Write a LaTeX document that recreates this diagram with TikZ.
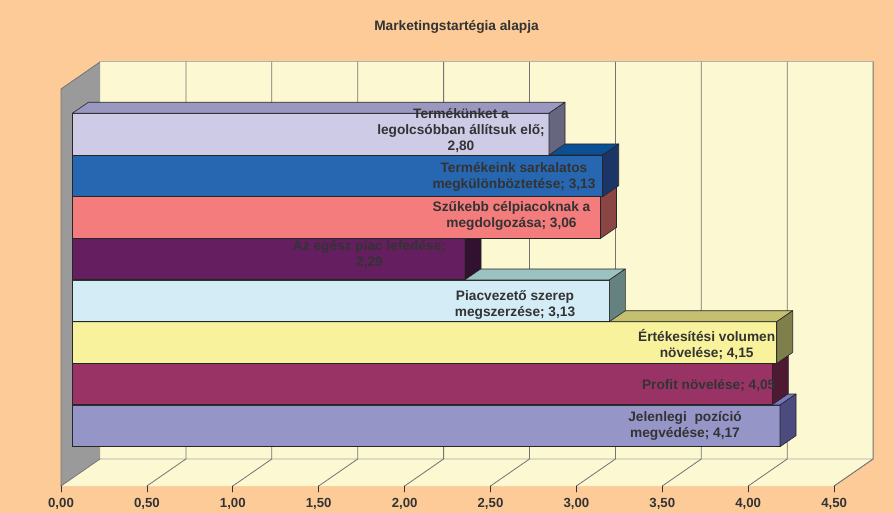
\documentclass[tikz,border=0pt]{standalone}
\usepackage{fontspec}
\setmainfont{Liberation Sans}
\definecolor{peach}{HTML}{FCCB98}
\definecolor{wall}{HTML}{FBF8D2}
\definecolor{sidewall}{HTML}{9A9A9A}
\definecolor{txt}{HTML}{333333}
\definecolor{fA}{HTML}{CDCBE6}\definecolor{tA}{HTML}{9A98C0}\definecolor{sA}{HTML}{67667F}
\definecolor{fB}{HTML}{2766B0}\definecolor{tB}{HTML}{0B4F95}\definecolor{sB}{HTML}{1A3566}
\definecolor{fC}{HTML}{F47C7C}\definecolor{tC}{HTML}{C25F5F}\definecolor{sC}{HTML}{8B4545}
\definecolor{fD}{HTML}{651E5F}\definecolor{tD}{HTML}{4A1646}\definecolor{sD}{HTML}{32102F}
\definecolor{fE}{HTML}{D3ECF5}\definecolor{tE}{HTML}{99C2C1}\definecolor{sE}{HTML}{668280}
\definecolor{fF}{HTML}{F7F29B}\definecolor{tF}{HTML}{C4C070}\definecolor{sF}{HTML}{7F7F4C}
\definecolor{fG}{HTML}{993366}\definecolor{tG}{HTML}{73264D}\definecolor{sG}{HTML}{4D1933}
\definecolor{fH}{HTML}{9595C8}\definecolor{tH}{HTML}{7777C0}\definecolor{sH}{HTML}{4B4B80}
\tikzset{
  barlabel/.style={text=txt, align=center, inner sep=0pt, font=\bfseries\fontsize{13.7}{16}\selectfont},
  barface/.style={draw=black!85, line width=.6pt, line join=round},
  grid/.style={draw=black!55, line width=.8pt}
}
\begin{document}
\begin{tikzpicture}[x=1pt, y=-1pt, line join=round, line cap=round]
\def \xo{61} \def \yo{486} % front corner of the floor
\def \dx{39} \def \dy{27}  % depth of walls
\def \u{85.9}              % 0,50 on the axis
\def \bx{72.3} \def \bh{41.7} \def \bdx{16} \def \bdy{11}
\useasboundingbox (0,0) rectangle (894,513);
\fill[peach] (0,0) rectangle (894,513);
\node[barlabel, font=\bfseries\fontsize{13.7}{16}\selectfont] (title) at (456.5,26.7) {Marketingstartégia alapja};
% walls and floor
\fill[wall] (\xo+\dx,\yo-\dy) rectangle (\xo+\dx+9*\u,62);
\draw[black!30, line width=1pt] (\xo+\dx,62) -- (\xo+\dx+9*\u,62);
\fill[sidewall] (\xo,\yo) -- (\xo,89) -- (\xo+\dx,62) -- (\xo+\dx,\yo-\dy) -- cycle;
\draw[black!55, line width=.8pt] (\xo,\yo) -- (\xo,89) -- (\xo+\dx,62);
\fill[wall] (\xo,\yo) -- (\xo+\dx,\yo-\dy) -- (\xo+\dx+9*\u,\yo-\dy) -- (\xo+9*\u,\yo) -- cycle;
\draw[black!35, line width=.8pt] (\xo+\dx,\yo-\dy) -- (\xo+\dx+9*\u,\yo-\dy) -- (\xo+9*\u,\yo);
\foreach \k in {1,...,9}
  \draw[grid] (\xo+\dx+\k*\u,62) -- (\xo+\dx+\k*\u,\yo-\dy) -- (\xo+\k*\u,\yo);
\draw[grid] (\xo,\yo) -- (\xo+\dx,\yo-\dy);
% bars, from the lowest one up
\foreach \t/\r/\c in {405/780/H, 363/772.3/G, 321.7/776.7/F, 280/609.3/E, 238/465/D, 196.7/600.5/C, 155/602.7/B, 113.3/549/A} {
  \filldraw[barface, fill=f\c] (\bx,\t) rectangle (\r,\t+\bh);
  \filldraw[barface, fill=t\c] (\bx,\t) -- (\bx+\bdx,\t-\bdy) -- (\r+\bdx,\t-\bdy) -- (\r,\t) -- cycle;
  \filldraw[barface, fill=s\c] (\r,\t) -- (\r+\bdx,\t-\bdy) -- (\r+\bdx,\t+\bh-\bdy) -- (\r,\t+\bh) -- cycle;
}
\node[barlabel] (olcso) at (461,131) {Termékünket a\\legolcsóbban állítsuk elő;\\2,80};
\node[barlabel] (kulon) at (514,177) {Termékeink sarkalatos\\megkülönböztetése; 3,13};
\node[barlabel] (celpiac) at (511.5,216) {Szűkebb célpiacoknak a\\megdolgozása; 3,06};
\node[barlabel] (egesz) at (369.5,254.7) {Az egész piac lefedése;\\2,29};
\node[barlabel] (vezeto) at (515,304.7) {Piacvezető szerep\\megszerzése; 3,13};
\node[barlabel] (volumen) at (706.7,344.2) {Értékesítési volumen\\növelése; 4,15};
\node[barlabel] (profit) at (708.7,386) {Profit növelése; 4,05};
\node[barlabel] (pozicio) at (685,426.3) {Jelenlegi\ \ pozíció\\megvédése; 4,17};
% axis
\foreach \k/\lab in {0/{0,00},1/{0,50},2/{1,00},3/{1,50},4/{2,00},5/{2,50},6/{3,00},7/{3,50},8/{4,00},9/{4,50}} {
  \draw[black!80, line width=.8pt] (\xo+\k*\u,\yo) -- (\xo+\k*\u,\yo+6);
  \node[barlabel, font=\bfseries\fontsize{13.2}{16}\selectfont] (tick\k) at (\xo+\k*\u,504) {\lab};
}
\end{tikzpicture}
\end{document}
